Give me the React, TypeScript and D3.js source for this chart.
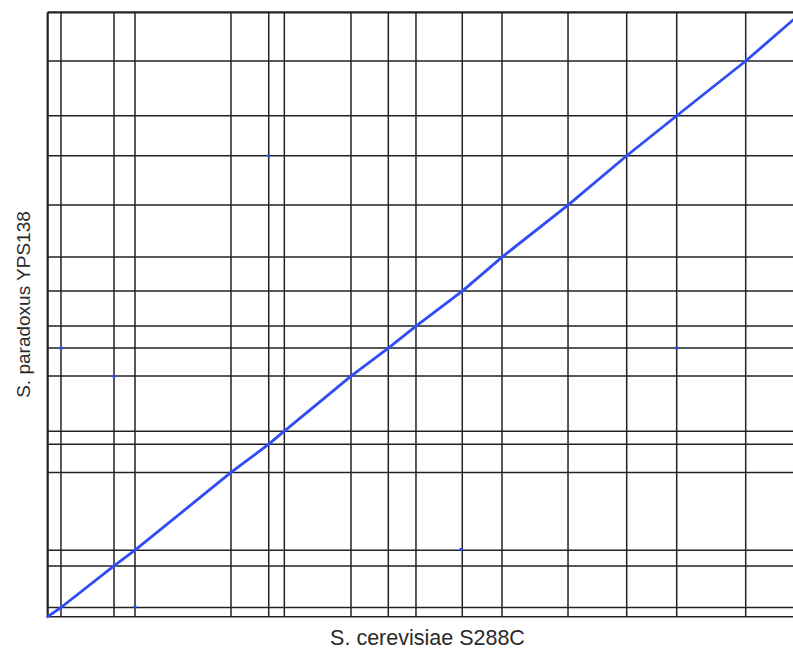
import React from "react";
import * as d3 from "d3";

// Chromosome lengths (kb), in order I..XVI
const chromosomes = ["I","II","III","IV","V","VI","VII","VIII","IX","X","XI","XII","XIII","XIV","XV","XVI"];
const cerevisiaeLengths = [211, 843, 334, 1526, 600, 248, 1060, 593, 440, 736, 632, 1049, 933, 795, 1097, 893];
const paradoxusLengths = [184, 832, 314, 1554, 566, 260, 1100, 560, 440, 700, 680, 1040, 986, 800, 1094, 974];

// Isolated off-diagonal hits (genome coordinates, kb)
const hitCerevisiae = [3514, 211, 1054, 6571, 10000, 1388];
const hitParadoxus = [9216, 5368, 4808, 1345, 5374, 194];

const xLabel = "S. cerevisiae S288C";
const yLabel = "S. paradoxus YPS138";

const W = 793;
const H = 651;

function cumulative(lengths: number[]) {
  const out = [0];
  lengths.forEach((l) => out.push(out[out.length - 1] + l));
  return out;
}

export default function App() {
  const cerCum = cumulative(cerevisiaeLengths);
  const parCum = cumulative(paradoxusLengths);
  const cerTotal = cerCum[cerCum.length - 1];
  const parTotal = parCum[parCum.length - 1];

  const left = 47.7;
  const top = 12.3;
  const bottom = 616.7;
  const pxPerKb = 0.0629;

  const x = d3.scaleLinear().domain([0, cerTotal]).range([left, left + cerTotal * pxPerKb]);
  const y = d3.scaleLinear().domain([0, parTotal]).range([bottom, top]);

  const xRight = x(cerTotal);
  const innerCer = cerCum.slice(1, -1);
  const innerPar = parCum.slice(1, -1);

  const line = d3
    .line<[number, number]>()
    .x((d) => x(d[0]))
    .y((d) => y(d[1]));

  const segments = chromosomes.map((_, i) => [
    [cerCum[i], parCum[i]],
    [cerCum[i + 1], parCum[i + 1]],
  ] as [number, number][]);

  const blue = "#2f4cf6";
  const grid = "#222";

  return (
    <svg
      width={W}
      height={H}
      style={{ position: "absolute", left: 0, top: 0, background: "#fff" }}
      fontFamily="'Liberation Sans', Arial, sans-serif"
    >
      {/* chromosome boundaries */}
      {innerCer.map((c, i) => (
        <line key={"v" + i} x1={x(c)} x2={x(c)} y1={top} y2={bottom} stroke={grid} strokeWidth={1.5} />
      ))}
      {innerPar.map((p, i) => (
        <line key={"h" + i} x1={left} x2={xRight} y1={y(p)} y2={y(p)} stroke={grid} strokeWidth={1.5} />
      ))}
      {/* frame */}
      <line x1={left} x2={xRight} y1={top} y2={top} stroke={grid} strokeWidth={2.2} />
      <line x1={left} x2={xRight} y1={bottom} y2={bottom} stroke={grid} strokeWidth={1.6} />
      <line x1={left} x2={left} y1={top} y2={bottom} stroke={grid} strokeWidth={2.2} />

      {/* syntenic alignments */}
      {segments.map((s, i) => (
        <path key={"s" + i} d={line(s) || ""} fill="none" stroke={blue} strokeWidth={2.8} strokeLinecap="round" />
      ))}
      {hitCerevisiae.map((c, i) => (
        <circle key={"p" + i} cx={x(c)} cy={y(hitParadoxus[i])} r={1.8} fill={blue} />
      ))}

      <text x={427.5} y={645} textAnchor="middle" fontSize={21.5} fill="#2a2a2a">
        {xLabel}
      </text>
      <text
        transform={`translate(29.5, 304.5) rotate(-90)`}
        textAnchor="middle"
        fontSize={19}
        fill="#2a2a2a"
      >
        {yLabel}
      </text>
    </svg>
  );
}
